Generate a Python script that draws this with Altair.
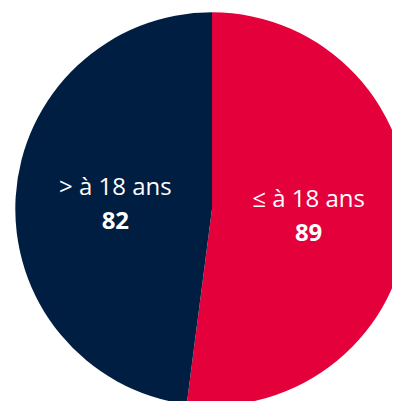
import altair as alt
import pandas as pd

labels = ["≤ à 18 ans", "> à 18 ans"]
values = [89, 82]
colors = ["#E4003B", "#001E41"]

df = pd.DataFrame({
    "label": labels,
    "value": values,
    "ord": list(range(len(labels))),
    "vtxt": [str(v) for v in values],
})

W, H = 400, 401
s = 400 / (W + 16)
cx, cy = 212 / s - 8, (208 - 7) / s - 8

base = alt.Chart(df).encode(
    theta=alt.Theta("value:Q", stack=True),
    order=alt.Order("ord:Q"),
    x=alt.value(cx),
    y=alt.value(cy),
)

arc = base.mark_arc(outerRadius=197 / s, stroke=None).encode(
    color=alt.Color("label:N", scale=alt.Scale(domain=labels, range=colors), legend=None)
)

fs = 24 / s
t1 = base.mark_text(radius=97 / s, dy=-15 / s, font="Open Sans", fontSize=fs, color="white",
                    baseline="middle", align="center").encode(text="label:N")
t2 = base.mark_text(radius=97 / s, dy=19.5 / s, font="Open Sans", fontSize=fs, fontWeight="bold",
                    color="white", baseline="middle", align="center").encode(text="vtxt:N")

chart = alt.layer(arc, t1, t2).properties(
    width=W, height=H, padding=0,
    autosize=alt.AutoSizeParams(type="none"),
).configure_view(stroke=None)

chart.save("out.html", embed_options={"renderer": "svg", "actions": False})
